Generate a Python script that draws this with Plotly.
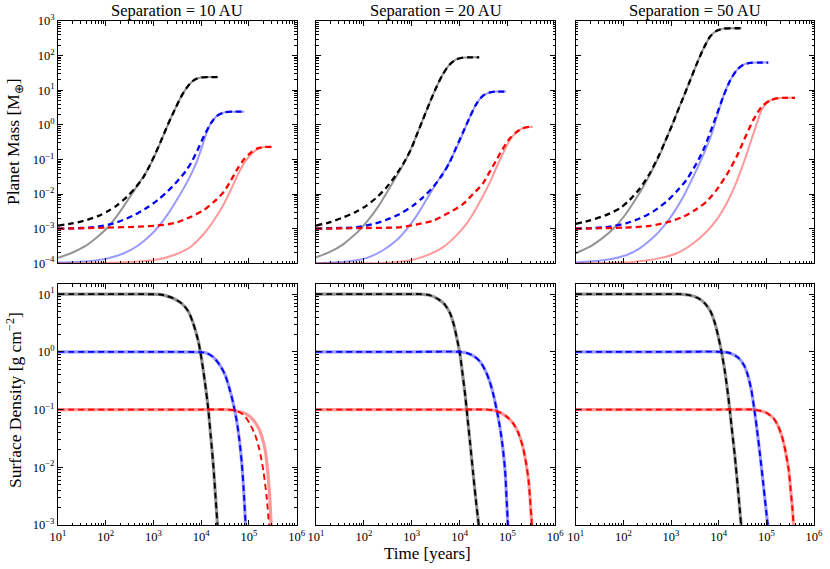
import plotly.graph_objects as go
from plotly.subplots import make_subplots

# values as (log10 time [yr], log10 value) pairs
# ---- planet mass, 10 AU
mass_10au_black_solid = [(1.0, -3.84), (1.27, -3.71), (1.55, -3.52), (1.83, -3.23), (2.03, -2.98), (2.24, -2.62),
                         (2.45, -2.20), (2.66, -1.76), (2.85, -1.36), (3.0, -0.97), (3.17, -0.43), (3.30, 0.0),
                         (3.44, 0.42), (3.57, 0.79), (3.69, 1.06), (3.80, 1.24), (3.90, 1.33), (4.0, 1.37),
                         (4.15, 1.38), (4.35, 1.38)]
mass_10au_black_dash = [(1.0, -2.91), (1.3, -2.85), (1.6, -2.75), (1.85, -2.63), (2.05, -2.49), (2.25, -2.31),
                        (2.45, -2.07), (2.62, -1.82), (2.78, -1.53), (2.92, -1.18), (3.05, -0.80), (3.17, -0.42),
                        (3.30, 0.0), (3.44, 0.42), (3.57, 0.79), (3.69, 1.06), (3.80, 1.24), (3.90, 1.33),
                        (4.0, 1.37), (4.15, 1.38), (4.35, 1.38)]
mass_10au_blue_solid = [(1.0, -3.98), (1.69, -3.93), (2.03, -3.86), (2.38, -3.71), (2.66, -3.50), (2.94, -3.18),
                        (3.08, -2.98), (3.29, -2.6), (3.5, -2.14), (3.71, -1.64), (3.89, -1.12), (4.0, -0.70),
                        (4.1, -0.28), (4.2, 0.04), (4.33, 0.26), (4.48, 0.36), (4.65, 0.38), (4.9, 0.38)]
mass_10au_blue_dash = [(1.0, -3.0), (1.5, -2.98), (1.83, -2.94), (2.1, -2.87), (2.38, -2.74), (2.63, -2.58),
                       (2.87, -2.39), (3.08, -2.18), (3.29, -1.93), (3.5, -1.63), (3.68, -1.33), (3.8, -1.07),
                       (3.92, -0.74), (4.06, -0.32), (4.2, 0.04), (4.33, 0.26), (4.48, 0.36), (4.65, 0.38),
                       (4.9, 0.38)]
mass_10au_red_solid = [(1.0, -4.0), (2.38, -3.97), (3.08, -3.89), (3.43, -3.76), (3.78, -3.52), (4.06, -3.14),
                       (4.27, -2.75), (4.48, -2.27), (4.62, -1.88), (4.76, -1.46), (4.90, -1.10), (5.04, -0.86),
                       (5.18, -0.70), (5.32, -0.64), (5.47, -0.64)]
mass_10au_red_dash = [(1.0, -3.0), (2.03, -2.97), (2.73, -2.94), (3.08, -2.91), (3.43, -2.84), (3.78, -2.66),
                      (4.06, -2.46), (4.27, -2.22), (4.48, -1.92), (4.62, -1.61), (4.76, -1.27), (4.90, -0.99),
                      (5.04, -0.80), (5.18, -0.68), (5.32, -0.64), (5.47, -0.64)]

# ---- planet mass, 20 AU
mass_20au_black_solid = [(1.0, -3.83), (1.28, -3.68), (1.56, -3.46), (1.77, -3.22), (1.91, -3.04), (2.11, -2.72),
                         (2.32, -2.32), (2.53, -1.84), (2.74, -1.35), (2.88, -1.0), (2.99, -0.67), (3.09, -0.34),
                         (3.23, 0.14), (3.37, 0.62), (3.51, 1.07), (3.65, 1.46), (3.79, 1.74), (3.93, 1.89),
                         (4.07, 1.94), (4.2, 1.95), (4.41, 1.95)]
mass_20au_black_dash = [(1.0, -2.91), (1.28, -2.82), (1.56, -2.68), (1.84, -2.51), (2.05, -2.34), (2.25, -2.12),
                        (2.46, -1.83), (2.67, -1.45), (2.85, -1.06), (2.99, -0.69), (3.09, -0.34), (3.23, 0.14),
                        (3.37, 0.62), (3.51, 1.07), (3.65, 1.46), (3.79, 1.74), (3.93, 1.89), (4.07, 1.94),
                        (4.2, 1.95), (4.41, 1.95)]
mass_20au_blue_solid = [(1.0, -4.0), (1.70, -3.94), (2.05, -3.85), (2.39, -3.63), (2.67, -3.35), (2.88, -3.04),
                        (3.09, -2.65), (3.30, -2.18), (3.51, -1.70), (3.72, -1.25), (3.86, -0.88), (4.0, -0.47),
                        (4.1, -0.14), (4.21, 0.21), (4.34, 0.58), (4.48, 0.83), (4.62, 0.93), (4.76, 0.96),
                        (4.97, 0.96)]
mass_20au_blue_dash = [(1.0, -3.0), (1.5, -2.98), (1.84, -2.96), (2.18, -2.87), (2.46, -2.75), (2.74, -2.58),
                       (3.02, -2.34), (3.23, -2.10), (3.44, -1.81), (3.65, -1.42), (3.79, -1.09), (3.93, -0.65),
                       (4.07, -0.22), (4.21, 0.21), (4.34, 0.58), (4.48, 0.83), (4.62, 0.93), (4.76, 0.96),
                       (4.97, 0.96)]
mass_20au_red_solid = [(1.0, -4.0), (2.39, -3.99), (2.95, -3.92), (3.30, -3.78), (3.65, -3.54), (3.93, -3.20),
                       (4.14, -2.87), (4.34, -2.43), (4.48, -2.08), (4.62, -1.70), (4.76, -1.26), (4.90, -0.85),
                       (5.04, -0.46), (5.18, -0.22), (5.32, -0.10), (5.45, -0.06), (5.53, -0.06)]
mass_20au_red_dash = [(1.0, -3.0), (2.05, -2.98), (2.74, -2.96), (3.09, -2.88), (3.44, -2.77), (3.79, -2.53),
                      (4.07, -2.29), (4.28, -2.0), (4.48, -1.71), (4.62, -1.38), (4.76, -1.04), (4.90, -0.70),
                      (5.04, -0.41), (5.18, -0.22), (5.32, -0.10), (5.45, -0.06), (5.53, -0.06)]

# ---- planet mass, 50 AU
mass_50au_black_solid = [(1.0, -3.71), (1.30, -3.52), (1.58, -3.25), (1.79, -3.0), (2.0, -2.67), (2.21, -2.25),
                         (2.42, -1.78), (2.63, -1.24), (2.80, -0.75), (2.87, -0.50), (3.01, -0.05), (3.12, 0.33),
                         (3.26, 0.80), (3.40, 1.28), (3.54, 1.76), (3.68, 2.20), (3.82, 2.55), (3.96, 2.72),
                         (4.10, 2.78), (4.25, 2.79), (4.48, 2.79)]
mass_50au_black_dash = [(1.0, -2.86), (1.30, -2.76), (1.65, -2.60), (1.93, -2.41), (2.14, -2.16), (2.35, -1.83),
                        (2.56, -1.39), (2.73, -0.93), (2.87, -0.50), (3.01, -0.05), (3.12, 0.33), (3.26, 0.80),
                        (3.40, 1.28), (3.54, 1.76), (3.68, 2.20), (3.82, 2.55), (3.96, 2.72), (4.10, 2.78),
                        (4.25, 2.79), (4.48, 2.79)]
mass_50au_blue_solid = [(1.0, -3.98), (1.65, -3.90), (2.07, -3.76), (2.35, -3.56), (2.63, -3.25), (2.84, -2.94),
                        (3.05, -2.55), (3.26, -2.07), (3.47, -1.49), (3.68, -0.86), (3.85, -0.28), (3.96, 0.22),
                        (4.10, 0.83), (4.24, 1.28), (4.38, 1.58), (4.52, 1.74), (4.66, 1.79), (4.85, 1.80),
                        (5.04, 1.80)]
mass_50au_blue_dash = [(1.0, -3.0), (1.37, -2.98), (1.72, -2.94), (2.07, -2.84), (2.35, -2.70), (2.63, -2.50),
                       (2.91, -2.21), (3.12, -1.92), (3.33, -1.58), (3.54, -1.10), (3.68, -0.72), (3.82, -0.23),
                       (3.96, 0.30), (4.10, 0.83), (4.24, 1.28), (4.38, 1.58), (4.52, 1.74), (4.66, 1.79),
                       (4.85, 1.80), (5.04, 1.80)]
mass_50au_red_solid = [(1.0, -4.0), (2.21, -3.96), (2.77, -3.85), (3.12, -3.71), (3.47, -3.42), (3.75, -3.08),
                       (3.96, -2.74), (4.17, -2.26), (4.38, -1.63), (4.47, -1.30), (4.55, -1.0), (4.64, -0.62),
                       (4.73, -0.25), (4.82, 0.12), (4.90, 0.42), (5.0, 0.62), (5.08, 0.71), (5.25, 0.77),
                       (5.40, 0.78), (5.60, 0.78)]
mass_50au_red_dash = [(1.0, -3.0), (2.0, -2.97), (2.56, -2.92), (2.91, -2.82), (3.26, -2.65), (3.54, -2.43),
                      (3.75, -2.21), (3.96, -1.87), (4.17, -1.44), (4.38, -0.91), (4.55, -0.38), (4.73, 0.15),
                      (4.90, 0.52), (5.08, 0.71), (5.25, 0.77), (5.40, 0.78), (5.60, 0.78)]

# ---- surface density
dens_10au_black = [(1.0, 1.0), (2.0, 1.0), (2.8, 1.0), (3.13, 0.995), (3.27, 0.97), (3.41, 0.93), (3.59, 0.84),
                   (3.73, 0.70), (3.83, 0.50), (3.94, 0.18), (4.01, -0.14), (4.08, -0.54), (4.15, -1.01),
                   (4.20, -1.47), (4.25, -1.93), (4.30, -2.51), (4.34, -3.0)]
dens_10au_blue = [(1.0, 0.0), (2.0, 0.0), (3.0, 0.0), (3.97, -0.005), (4.11, -0.02), (4.25, -0.09), (4.39, -0.23),
                  (4.50, -0.40), (4.60, -0.66), (4.67, -0.89), (4.74, -1.18), (4.80, -1.53), (4.85, -1.93),
                  (4.89, -2.40), (4.93, -3.0)]
dens_10au_red_solid = [(1.0, -1.0), (2.0, -1.0), (3.0, -1.0), (4.0, -1.0), (4.53, -1.0), (4.74, -1.02),
                       (4.95, -1.08), (5.09, -1.18), (5.20, -1.32), (5.27, -1.47), (5.34, -1.70), (5.39, -2.05),
                       (5.43, -2.45), (5.465, -3.0)]
dens_10au_red_dash = [(1.0, -1.0), (2.0, -1.0), (3.0, -1.0), (4.0, -1.0), (4.53, -1.0), (4.67, -1.01),
                      (4.81, -1.05), (4.92, -1.12), (5.02, -1.25), (5.13, -1.44), (5.22, -1.70), (5.30, -2.05),
                      (5.37, -2.51), (5.42, -3.0)]
dens_20au_black = [(1.0, 1.0), (2.0, 1.0), (2.8, 1.0), (3.17, 1.0), (3.38, 0.98), (3.56, 0.91), (3.69, 0.82),
                   (3.80, 0.67), (3.88, 0.47), (3.95, 0.21), (4.01, -0.05), (4.06, -0.37), (4.12, -0.77),
                   (4.17, -1.18), (4.22, -1.58), (4.28, -2.08), (4.34, -2.56), (4.40, -3.0)]
dens_20au_blue = [(1.0, 0.0), (2.0, 0.0), (3.0, 0.0), (4.01, 0.0), (4.15, -0.02), (4.29, -0.07), (4.43, -0.17),
                  (4.53, -0.31), (4.62, -0.49), (4.70, -0.72), (4.77, -0.98), (4.84, -1.29), (4.90, -1.64),
                  (4.95, -2.05), (4.98, -2.51), (5.01, -3.0)]
dens_20au_red = [(1.0, -1.0), (2.0, -1.0), (3.0, -1.0), (4.0, -1.0), (4.57, -1.0), (4.70, -1.01), (4.84, -1.05),
                 (4.98, -1.12), (5.12, -1.24), (5.23, -1.41), (5.32, -1.64), (5.39, -1.93), (5.44, -2.22),
                 (5.47, -2.51), (5.51, -3.0)]
dens_50au_black = [(1.0, 1.0), (2.0, 1.0), (2.8, 1.0), (3.19, 1.0), (3.40, 0.98), (3.57, 0.93), (3.71, 0.84),
                   (3.83, 0.70), (3.92, 0.50), (3.99, 0.27), (4.06, 0.0), (4.13, -0.34), (4.20, -0.77),
                   (4.27, -1.29), (4.34, -1.81), (4.40, -2.34), (4.45, -2.80), (4.47, -3.0)]
dens_50au_blue = [(1.0, 0.0), (2.0, 0.0), (3.0, 0.0), (4.06, 0.0), (4.23, -0.02), (4.41, -0.10), (4.53, -0.23),
                  (4.61, -0.40), (4.68, -0.64), (4.74, -0.95), (4.80, -1.32), (4.87, -1.80), (4.94, -2.32),
                  (5.00, -2.78), (5.03, -3.0)]
dens_50au_red = [(1.0, -1.0), (2.0, -1.0), (3.0, -1.0), (4.0, -1.0), (4.73, -1.0), (4.87, -1.02), (5.01, -1.06),
                 (5.15, -1.15), (5.25, -1.29), (5.34, -1.50), (5.41, -1.76), (5.47, -2.05), (5.51, -2.39),
                 (5.55, -2.74), (5.57, -3.0)]

separations = ["10 AU", "20 AU", "50 AU"]
xtick_labels = ["10<sup>1</sup>", "10<sup>2</sup>", "10<sup>3</sup>", "10<sup>4</sup>", "10<sup>5</sup>",
                "10<sup>6</sup>"]
mass_tick_labels = ["10<sup>\u22124</sup>", "10<sup>\u22123</sup>", "10<sup>\u22122</sup>", "10<sup>\u22121</sup>",
                    "10<sup>0</sup>", "10<sup>1</sup>", "10<sup>2</sup>", "10<sup>3</sup>"]
dens_tick_labels = ["10<sup>\u22123</sup>", "10<sup>\u22122</sup>", "10<sup>\u22121</sup>", "10<sup>0</sup>",
                    "10<sup>1</sup>"]

mass_curves = [
    [(mass_10au_black_solid, mass_10au_black_dash), (mass_10au_blue_solid, mass_10au_blue_dash),
     (mass_10au_red_solid, mass_10au_red_dash)],
    [(mass_20au_black_solid, mass_20au_black_dash), (mass_20au_blue_solid, mass_20au_blue_dash),
     (mass_20au_red_solid, mass_20au_red_dash)],
    [(mass_50au_black_solid, mass_50au_black_dash), (mass_50au_blue_solid, mass_50au_blue_dash),
     (mass_50au_red_solid, mass_50au_red_dash)],
]
dens_curves = [
    [(dens_10au_black, dens_10au_black), (dens_10au_blue, dens_10au_blue), (dens_10au_red_solid, dens_10au_red_dash)],
    [(dens_20au_black, dens_20au_black), (dens_20au_blue, dens_20au_blue), (dens_20au_red, dens_20au_red)],
    [(dens_50au_black, dens_50au_black), (dens_50au_blue, dens_50au_blue), (dens_50au_red, dens_50au_red)],
]

dark = ["#000000", "#0000ff", "#ff0000"]
light = ["rgba(0,0,0,0.42)", "rgba(0,0,255,0.4)", "rgba(255,0,0,0.4)"]


def xy(pts):
    return [10 ** a for a, b in pts], [10 ** b for a, b in pts]


W, H = 830, 569
fig = make_subplots(rows=2, cols=3)

for c in range(3):
    for k in range(3):
        for row, curves, wsolid, wdash in [(1, mass_curves, 2.0, 2.3), (2, dens_curves, 3.2, 1.9)]:
            solid, dash = curves[c][k]
            x, y = xy(solid)
            fig.add_trace(go.Scatter(x=x, y=y, mode="lines", line=dict(color=light[k], width=wsolid,
                                     shape="spline", smoothing=0.7), showlegend=False, hoverinfo="skip"),
                          row=row, col=c + 1)
            x, y = xy(dash)
            fig.add_trace(go.Scatter(x=x, y=y, mode="lines", line=dict(color=dark[k], width=wdash, dash="6px,4px",
                                     shape="spline", smoothing=0.7), showlegend=False, hoverinfo="skip"),
                          row=row, col=c + 1)

# panel edges in pixels
col_px = [(58.0, 296.7), (316.0, 555.3), (575.7, 814.0)]
row_px = [(21.0, 263.3), (284.0, 525.0)]


def px_x(v):
    return v / W


def px_y(v):
    return 1 - v / H


def minor_vals(lo, hi):
    out = []
    for e in range(lo, hi):
        for m in range(2, 10):
            out.append(m * 10 ** e)
    return out


tick_font = dict(family="Liberation Serif", size=12.5, color="black")
for r in range(2):
    for c in range(3):
        n = r * 3 + c + 1
        xa = dict(domain=[px_x(col_px[c][0]), px_x(col_px[c][1])], type="log", range=[1, 6],
                  tickvals=[10, 100, 1e3, 1e4, 1e5, 1e6], ticktext=xtick_labels, showticklabels=(r == 1),
                  ticks="inside", ticklen=5, tickcolor="black", mirror="allticks", showline=True,
                  linecolor="black", linewidth=1, showgrid=False, zeroline=False, tickfont=tick_font,
                  automargin=False,
                  minor=dict(tickvals=minor_vals(1, 6), ticks="inside", ticklen=2.5, tickcolor="black"))
        if r == 0:
            ya = dict(range=[-4, 3], tickvals=[1e-4, 1e-3, 1e-2, 1e-1, 1, 10, 100, 1000], ticktext=mass_tick_labels,
                      minor=dict(tickvals=minor_vals(-4, 3), ticks="inside", ticklen=2.5, tickcolor="black"))
        else:
            ya = dict(range=[-3, 1.176], tickvals=[1e-3, 1e-2, 1e-1, 1, 10], ticktext=dens_tick_labels,
                      minor=dict(tickvals=minor_vals(-3, 2), ticks="inside", ticklen=2.5, tickcolor="black"))
        ya.update(domain=[px_y(row_px[r][1]), px_y(row_px[r][0])], type="log", showticklabels=(c == 0),
                  ticks="inside", ticklen=5, tickcolor="black", mirror="allticks", showline=True,
                  linecolor="black", linewidth=1, showgrid=False, zeroline=False, tickfont=tick_font,
                  automargin=False)
        fig.layout["xaxis" + (str(n) if n > 1 else "")].update(xa)
        fig.layout["yaxis" + (str(n) if n > 1 else "")].update(ya)

label_font = dict(family="Liberation Serif", size=17.5, color="black")
annotations = []
for c in range(3):
    annotations.append(dict(text="Separation = " + separations[c], x=px_x((col_px[c][0] + col_px[c][1]) / 2),
                            y=px_y(11), font=dict(family="Liberation Serif", size=16.5, color="black")))
annotations.append(dict(text="Planet Mass [M<sub>\u2295</sub>]", x=px_x(14), y=px_y(142), textangle=-90,
                        font=label_font))
annotations.append(dict(text="Surface Density [g cm<sup>\u22122</sup>]", x=px_x(14), y=px_y(400), textangle=-90,
                        font=label_font))
annotations.append(dict(text="Time [years]", x=px_x(427), y=px_y(553), font=dict(label_font, size=17)))
for a in annotations:
    a.update(xref="paper", yref="paper", showarrow=False, xanchor="center", yanchor="middle")

fig.update_layout(width=W, height=H, margin=dict(l=0, r=0, t=0, b=0, autoexpand=False), paper_bgcolor="white",
                  plot_bgcolor="white", annotations=annotations, showlegend=False)

# drop the page's default body margin so the figure sits at the window corner
fig.write_html("out.html", config={"displayModeBar": False},
               post_script="document.body.style.margin = '0px';")
